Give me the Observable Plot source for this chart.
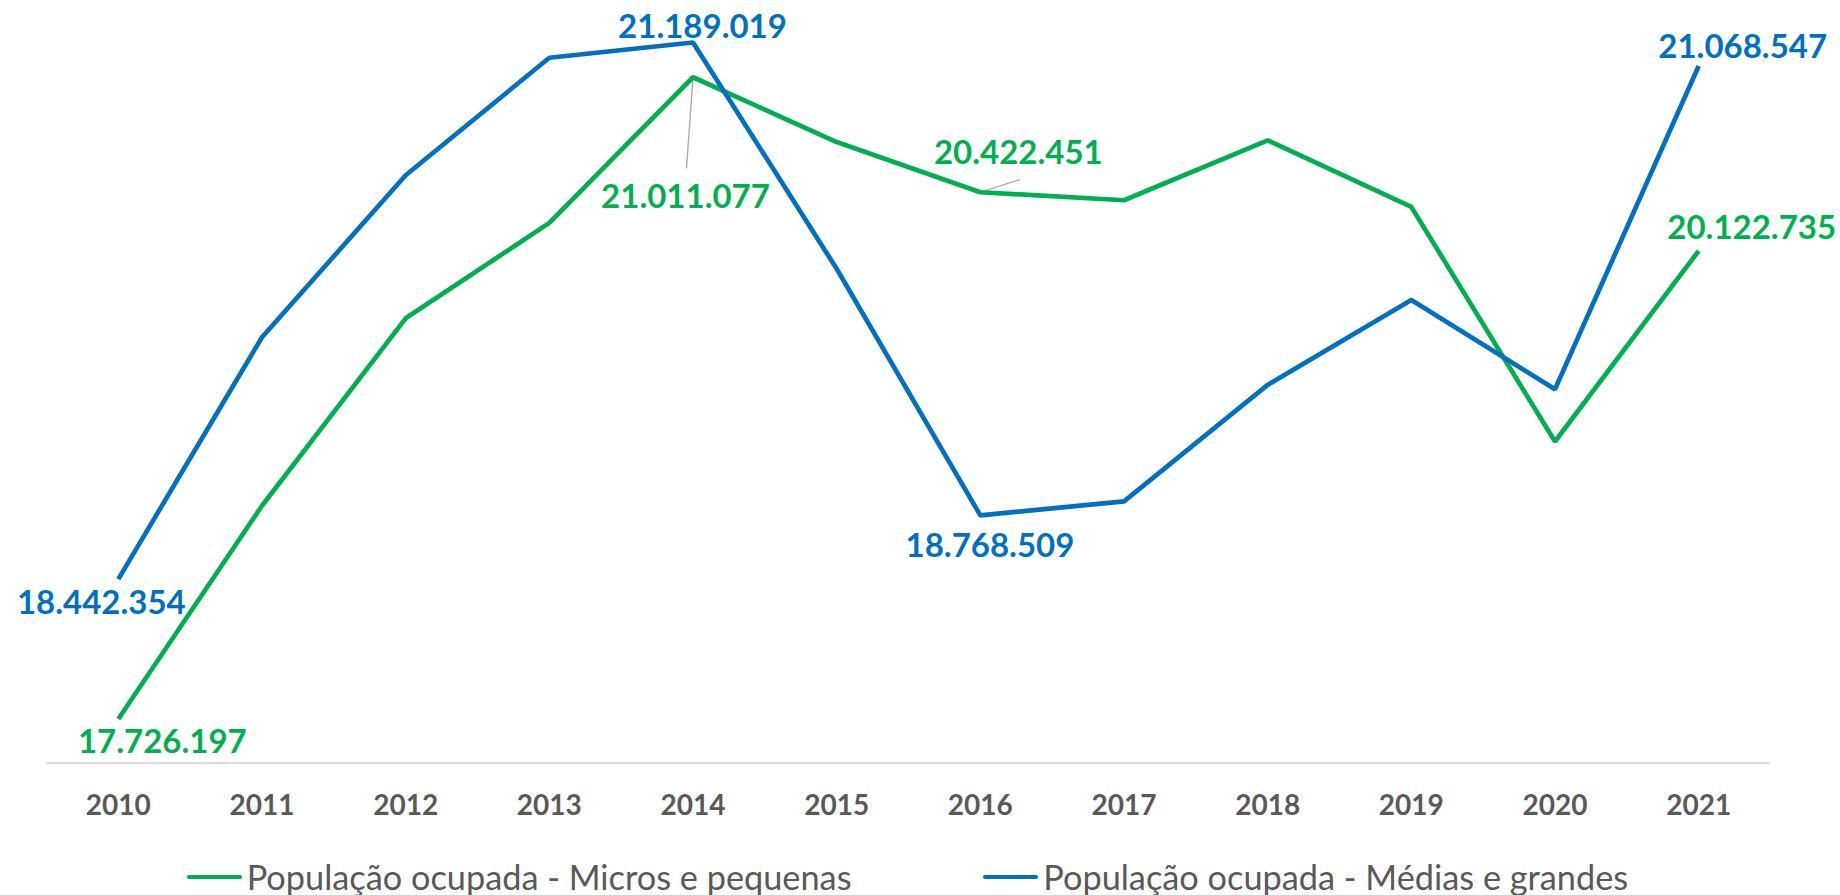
<!DOCTYPE html>
<html>
<head>
<meta charset="utf-8">
<script src="https://cdn.jsdelivr.net/npm/d3@7"></script>
<script src="https://cdn.jsdelivr.net/npm/@observablehq/plot@0.6"></script>
<style>
  html, body { margin: 0; padding: 0; background: #ffffff; }
  #wrap { width: 1840px; height: 895px; position: relative; font-family: Lato, "Open Sans", sans-serif; }
  #legend { position: relative; height: 60px; width: 1840px; }
  .item { position: absolute; top: 25px; height: 34px; line-height: 34px; display: flex; align-items: center; color: #595959; font-size: 34.3px; white-space: nowrap; }
  .sw { display: inline-block; width: 55px; height: 4.5px; border-radius: 2px; margin-right: 5px; }
</style>
</head>
<body>
<div id="wrap">
  <div id="chart"></div>
  <div id="legend"></div>
</div>
<script>
// ---- data ----
const years = [2010, 2011, 2012, 2013, 2014, 2015, 2016, 2017, 2018, 2019, 2020, 2021];
const micros = [17726197, 18818000, 19777100, 20265600, 21011077, 20679500, 20422451, 20381600, 20688200, 20347400, 19146600, 20122735];
const medias = [18442354, 19680000, 20509400, 21110800, 21189019, 20030600, 18768509, 18839950, 19436300, 19870600, 19414300, 21068547];
const seriesNames = ["População ocupada - Micros e pequenas", "População ocupada - Médias e grandes"];
const labeledYears = [2010, 2014, 2016, 2021];
const yAxisMin = 17500000;
const yAxisMax = 21300000;

// ---- styling ----
const colors = {[seriesNames[0]]: "#00B050", [seriesNames[1]]: "#0070C0"};
const W = 1840, H = 835;
const mL = 46, mR = 70, mT = 20.3, mB = H - 762.7;

const rows = [];
years.forEach((y, i) => {
  rows.push({series: seriesNames[0], year: y, value: micros[i]});
  rows.push({series: seriesNames[1], year: y, value: medias[i]});
});

const fmt = d3.formatLocale({decimal: ",", thousands: ".", grouping: [3], currency: ["R$", ""]}).format(",d");

// label offsets in pixels relative to their points
const labelOffsets = {
  [seriesNames[0]]: {2010: [44, 23], 2014: [-7.5, 120], 2016: [38, -38.7], 2021: [53, -22]},
  [seriesNames[1]]: {2010: [-17, 24.5], 2014: [9.5, -15.5], 2016: [9.6, 31.5], 2021: [44, -19]}
};
// leader lines (pixel vector from point)
const leaders = [
  {series: seriesNames[0], year: 2014, v: [-6.5, 91]},
  {series: seriesNames[0], year: 2016, v: [39.6, -12.7]}
];

const xOpts = {type: "linear", domain: [2009.5, 2021.5], range: [mL, W - mR]};
const yOpts = {type: "linear", domain: [yAxisMin, yAxisMax], range: [H - mB, mT]};
const xs = Plot.scale({x: xOpts});
const ys = Plot.scale({y: yOpts});

const labelRows = rows.filter(d => labeledYears.includes(d.year));
const textMarks = labelRows.map(d => {
  const [dx, dy] = labelOffsets[d.series][d.year];
  return Plot.text([d], {
    x: "year", y: "value", text: r => fmt(r.value),
    fill: colors[d.series], dx, dy,
    fontSize: 33, fontWeight: 700, fontFamily: "Lato", textAnchor: "middle"
  });
});

const leaderRows = leaders.map(l => {
  const r = rows.find(d => d.series === l.series && d.year === l.year);
  return {
    x1: r.year, y1: r.value,
    x2: xs.invert(xs.apply(r.year) + l.v[0]),
    y2: ys.invert(ys.apply(r.value) + l.v[1])
  };
});

const chart = Plot.plot({
  width: W, height: H,
  marginLeft: mL, marginRight: mR, marginTop: mT, marginBottom: mB,
  style: {fontFamily: "Lato", background: "#ffffff", overflow: "visible"},
  x: {...xOpts, ticks: years, tickFormat: "d", label: null},
  y: {...yOpts, axis: null},
  marks: [
    Plot.ruleY([yAxisMin], {stroke: "#d9d9d9", strokeWidth: 2}),
    Plot.axisX({ticks: years, tickFormat: "d", tickSize: 0, tickPadding: 32, fontSize: 28, fontWeight: 700, fill: "#595959", label: null}),
    Plot.link(leaderRows, {x1: "x1", y1: "y1", x2: "x2", y2: "y2", stroke: "#a6a6a6", strokeWidth: 1.3}),
    Plot.line(rows, {x: "year", y: "value", z: "series", stroke: d => colors[d.series], strokeWidth: 4.7, strokeLinejoin: "miter", strokeLinecap: "butt"}),
    ...textMarks
  ]
});
document.getElementById("chart").appendChild(chart);

// legend
const legend = document.getElementById("legend");
const lefts = [186.7, 983.3];
seriesNames.forEach((name, i) => {
  const it = document.createElement("div");
  it.className = "item";
  it.style.left = lefts[i] + "px";
  const sw = document.createElement("span");
  sw.className = "sw";
  sw.style.background = colors[name];
  const tx = document.createElement("span");
  tx.textContent = name;
  it.appendChild(sw);
  it.appendChild(tx);
  legend.appendChild(it);
});
</script>
</body>
</html>
